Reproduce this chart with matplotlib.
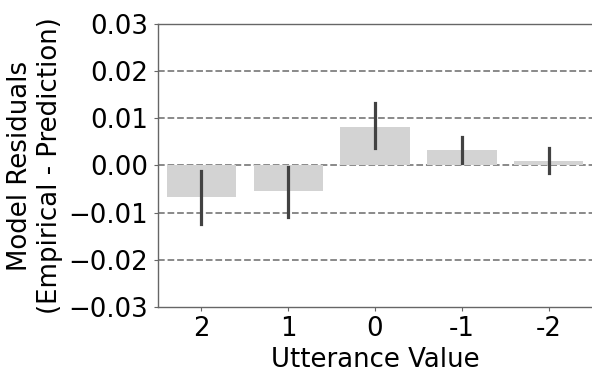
import matplotlib
matplotlib.use("Agg")
import matplotlib.pyplot as plt
import numpy as np

# data
utterances = ['2', '1', '0', '-1', '-2']
residuals = [-0.0068, -0.0055, 0.0082, 0.0033, 0.0010]
err_low = [-0.0125, -0.0110, 0.0037, 0.0006, -0.0015]
err_high = [-0.0012, -0.0004, 0.0132, 0.0061, 0.0038]
yticks = [-0.03, -0.02, -0.01, 0.0, 0.01, 0.02, 0.03]
gridlines = [-0.02, -0.01, 0.0, 0.01, 0.02]

plt.rcParams['font.size'] = 18.7

fig, ax = plt.subplots(figsize=(5.92, 3.74), dpi=100)
x = np.arange(len(utterances))

for g in gridlines:
    ax.axhline(g, color='gray', linestyle='--', linewidth=1.3, zorder=0)

ax.bar(x, residuals, width=0.8, color='lightgray', zorder=1)
for xi, lo, hi in zip(x, err_low, err_high):
    ax.plot([xi, xi], [lo, hi], color='#424242', linewidth=2.3, zorder=2)

ax.set_xticks(x)
ax.set_xticklabels(utterances)
ax.set_xlim(-0.5, len(utterances) - 0.5)
ax.set_ylim(-0.03, 0.03)
ax.set_yticks(yticks)
ax.set_yticklabels(['%.2f' % t if t >= 0 else '\u2212%.2f' % abs(t) for t in yticks])
ax.tick_params(length=3, width=0.8, pad=4, colors='#666666', labelcolor='black')
ax.set_xlabel('Utterance Value', labelpad=3)
ax.set_ylabel('Model Residuals\n(Empirical - Prediction)', labelpad=4)

ax.spines['right'].set_visible(False)
for side in ['top', 'left', 'bottom']:
    ax.spines[side].set_color('#666666')
    ax.spines[side].set_linewidth(1.0)

plt.subplots_adjust(left=0.267, right=1.0, top=0.935, bottom=0.18)
plt.savefig('out.png', dpi=100)
